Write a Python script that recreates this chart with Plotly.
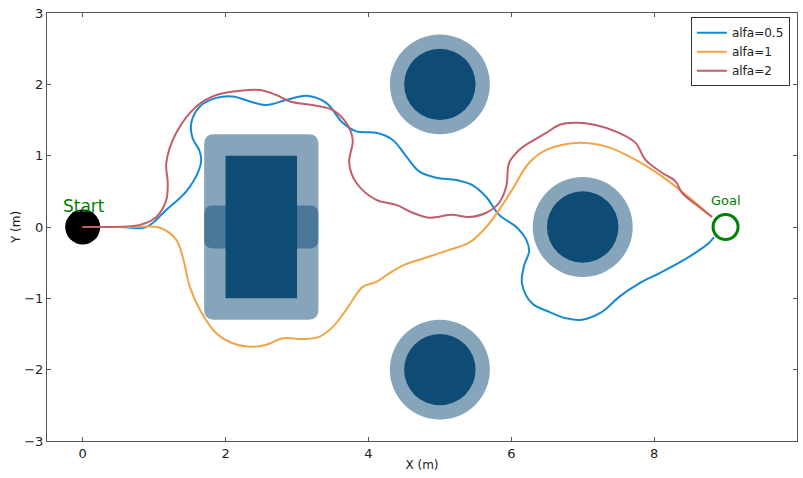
import plotly.graph_objects as go

# ---- data ----
blue_x = [0, 0.24, 0.52, 0.89, 1.17, 1.45, 1.62, 1.66, 1.63, 1.54, 1.52, 1.64, 1.87, 2.10, 2.34, 2.57, 2.85, 3.13, 3.41,
          3.64, 3.83, 4.11, 4.34, 4.53, 4.71, 4.95, 5.23, 5.45, 5.65, 5.83, 6.07, 6.21, 6.25, 6.18, 6.15, 6.29, 6.53,
          6.77, 6.99, 7.27, 7.51, 7.79, 8.07, 8.35, 8.58, 8.77, 8.84]
blue_y = [0, 0, 0, 0.0, 0.24, 0.50, 0.78, 0.94, 1.08, 1.24, 1.46, 1.69, 1.81, 1.83, 1.76, 1.71, 1.78, 1.84, 1.74,
          1.46, 1.34, 1.32, 1.22, 0.99, 0.78, 0.69, 0.66, 0.59, 0.42, 0.17, 0.0, -0.18, -0.34, -0.54, -0.79, -1.07, -1.19,
          -1.28, -1.30, -1.19, -0.98, -0.79, -0.65, -0.50, -0.36, -0.22, -0.14]

orange_x = [0, 0.66, 1.08, 1.31, 1.40, 1.50, 1.64, 1.87, 2.10, 2.38, 2.57, 2.80, 3.08, 3.31, 3.50, 3.69, 3.92, 4.11,
            4.29, 4.50, 4.71, 5.13, 5.41, 5.65, 5.83, 6.01, 6.25, 6.49, 6.95, 7.32, 7.65, 8.11, 8.53, 8.81]
orange_y = [0, 0, -0.01, -0.18, -0.42, -0.84, -1.16, -1.49, -1.63, -1.68, -1.65, -1.56, -1.57, -1.54, -1.40, -1.16,
            -0.84, -0.77, -0.65, -0.53, -0.46, -0.32, -0.22, 0.0, 0.24, 0.52, 0.90, 1.08, 1.18, 1.13, 0.99, 0.71, 0.38, 0.14]

red_x = [0, 0.24, 0.80, 1.03, 1.17, 1.19, 1.17, 1.31, 1.59, 1.87, 2.20, 2.48, 2.71, 2.90, 3.22, 3.50, 3.69, 3.78,
         3.73, 3.83, 4.11, 4.39, 4.62, 4.85, 5.17, 5.41, 5.65, 5.83, 5.93, 5.97, 6.11, 6.25, 6.49, 6.67, 6.90, 7.18,
         7.51, 7.74, 7.88, 8.11, 8.30, 8.39, 8.63, 8.81]
red_y = [0, 0, 0.03, 0.14, 0.38, 0.62, 0.90, 1.32, 1.69, 1.85, 1.91, 1.92, 1.85, 1.76, 1.71, 1.64, 1.46, 1.22,
         0.90, 0.62, 0.38, 0.31, 0.20, 0.13, 0.17, 0.14, 0.20, 0.34, 0.57, 0.90, 1.08, 1.18, 1.32, 1.43, 1.46, 1.43,
         1.32, 1.18, 0.94, 0.76, 0.64, 0.48, 0.28, 0.14]

series_names = ["alfa=0.5", "alfa=1", "alfa=2"]

# obstacles: circles (cx, cy, r) and rectangle (x0, x1, y0, y1)
circle_cx = [5, 7, 5]
circle_cy = [2, 0, -2]
circle_r = [0.5, 0.5, 0.5]
circle_margin = 0.2
rect = (2.0, 3.0, -1.0, 1.0)
rect_margin = 0.3
bump = (2.0, 3.0, -0.0, 0.0)

start = (0, 0)
goal = (9, 0)
x_ticks = [0, 2, 4, 6, 8, 10]
y_ticks = [-3, -2, -1, 0, 1, 2, 3]

OB_DARK = "#0f4c75"
OB_LIGHT = "rgba(15,76,117,0.5)"


def rounded_rect(x0, x1, y0, y1, r):
    return (f"M {x0 + r},{y0} L {x1 - r},{y0} Q {x1},{y0} {x1},{y0 + r} "
            f"L {x1},{y1 - r} Q {x1},{y1} {x1 - r},{y1} L {x0 + r},{y1} "
            f"Q {x0},{y1} {x0},{y1 - r} L {x0},{y0 + r} Q {x0},{y0} {x0 + r},{y0} Z")


fig = go.Figure()

colors = ["#1688d6", "#f2a444", "#c25e6a"]
for xs, ys, name, c in zip([blue_x, orange_x, red_x], [blue_y, orange_y, red_y], series_names, colors):
    fig.add_trace(go.Scatter(x=xs, y=ys, mode="lines", name=name,
                             line=dict(color=c, width=2, shape="spline", smoothing=1.0)))

shapes = []
# rectangle obstacle
shapes.append(dict(type="path", path=rounded_rect(rect[0] - rect_margin, rect[1] + rect_margin,
                                                  rect[2] - rect_margin, rect[3] + rect_margin, 0.14),
                   fillcolor=OB_LIGHT, line=dict(width=0), layer="below"))
shapes.append(dict(type="path", path=rounded_rect(bump[0] - rect_margin, bump[1] + rect_margin,
                                                  bump[2] - rect_margin, bump[3] + rect_margin, 0.12),
                   fillcolor=OB_LIGHT, line=dict(width=0), layer="below"))
shapes.append(dict(type="rect", x0=rect[0], x1=rect[1], y0=rect[2], y1=rect[3],
                   fillcolor=OB_DARK, line=dict(width=0), layer="below"))
for cx, cy, r in zip(circle_cx, circle_cy, circle_r):
    R = r + circle_margin
    shapes.append(dict(type="circle", x0=cx - R, x1=cx + R, y0=cy - R, y1=cy + R,
                       fillcolor=OB_LIGHT, line=dict(width=0), layer="below"))
    shapes.append(dict(type="circle", x0=cx - r, x1=cx + r, y0=cy - r, y1=cy + r,
                       fillcolor=OB_DARK, line=dict(width=0), layer="below"))
# start
sr = 0.245
shapes.append(dict(type="circle", x0=start[0] - sr, x1=start[0] + sr, y0=start[1] - sr, y1=start[1] + sr,
                   fillcolor="black", line=dict(width=0), layer="below"))
# goal
gr = 0.175
shapes.append(dict(type="circle", x0=goal[0] - gr, x1=goal[0] + gr, y0=goal[1] - gr, y1=goal[1] + gr,
                   fillcolor="white", line=dict(width=3, color="#008000"), layer="above"))

fig.update_layout(shapes=shapes)
fig.add_annotation(x=start[0] + 0.02, y=start[1] + 0.30, text="Start", showarrow=False,
                   font=dict(size=17, color="#008000", family="DejaVu Sans"))
fig.add_annotation(x=goal[0], y=goal[1] + 0.37, text="Goal", showarrow=False,
                   font=dict(size=13, color="#008000", family="DejaVu Sans"))

axis_common = dict(showgrid=False, zeroline=False, showline=True, mirror="ticks", linecolor="#555",
                   linewidth=1, ticks="inside", ticklen=4, tickcolor="#555",
                   tickfont=dict(size=13, color="#222", family="DejaVu Sans"))
fig.update_xaxes(range=[-0.5, 10], tickvals=x_ticks, ticktext=[str(v) for v in x_ticks],
                 title=dict(text="X (m)", font=dict(size=12, color="#222"), standoff=1), **axis_common)
fig.update_yaxes(range=[-3, 3], tickvals=y_ticks,
                 ticktext=[("\u2212" + str(-v)) if v < 0 else str(v) for v in y_ticks],
                 title=dict(text="Y (m)", font=dict(size=12, color="#222"), standoff=1), **axis_common)

fig.update_layout(
    width=803, height=478,
    margin=dict(l=47, r=6, t=13, b=37),
    plot_bgcolor="white", paper_bgcolor="white",
    font=dict(family="DejaVu Sans"),
    legend=dict(x=0.9905, y=0.99, xanchor="right", yanchor="top", bgcolor="white",
                bordercolor="#333", borderwidth=1, font=dict(size=12, color="#222"),
                tracegroupgap=0, itemwidth=30),
)

fig.write_html("out.html")
